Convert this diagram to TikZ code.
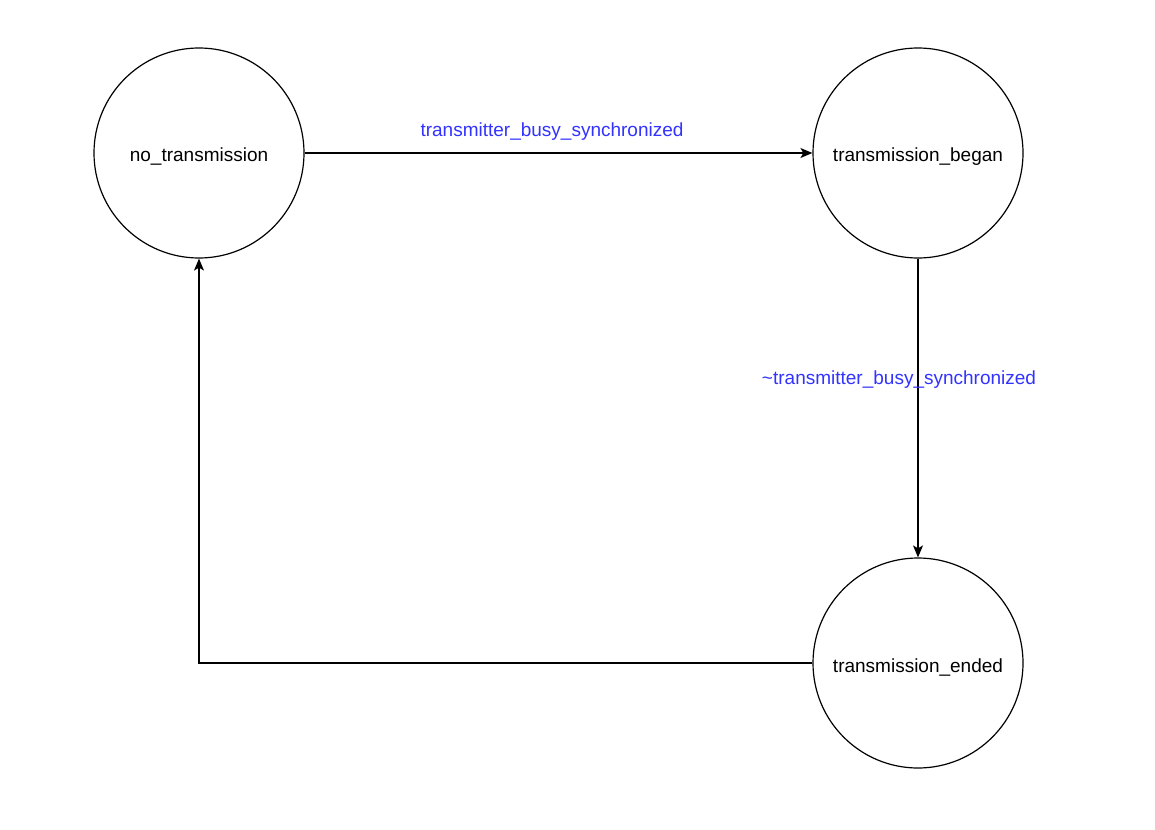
\documentclass[tikz,border=0pt]{standalone}
\usepackage{fontspec}
\setmainfont{Liberation Sans}
\usetikzlibrary{arrows.meta}
\definecolor{lbl}{HTML}{3333FF}
\begin{document}
\begin{tikzpicture}[x=1pt,y=-1pt,
  state/.style={draw, line width=1.2pt, circle, minimum size=210pt, inner sep=0pt},
  stext/.style={font=\fontsize{19}{22}\selectfont, inner sep=0pt},
  trans/.style={draw, line width=1.2pt, -{Stealth[length=12pt,width=10pt,inset=3pt]}},
  tlabel/.style={text=lbl, font=\fontsize{19}{22}\selectfont, inner sep=0pt}]
  \useasboundingbox (0,0) rectangle (1155,829);
  \fill[white] (0,0) rectangle (1155,829);
  % states
  \node[state] (idle)  at (199,153) {};
  \node[state] (began) at (918,153) {};
  \node[state] (ended) at (918,663) {};
  \node[stext] (idlet)  at (199,157) {no\_transmission};
  \node[stext] (begant) at (918,157) {transmission\_began};
  \node[stext] (endedt) at (918,667) {transmission\_ended};
  % transitions
  \draw[trans] (idle.east) -- (began.west);
  \draw[trans] (began.south) -- (ended.north);
  \draw[trans] (ended.west) -| (idle.south);
  % guards
  \node[tlabel] (g1) at (552,132) {transmitter\_busy\_synchronized};
  \node[tlabel] (g2) at (899,380) {\textasciitilde transmitter\_busy\_synchronized};
\end{tikzpicture}
\end{document}
